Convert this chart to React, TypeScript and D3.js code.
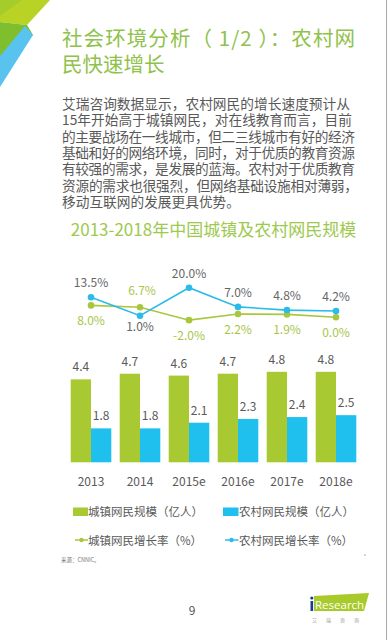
import React from "react";
import * as d3 from "d3";

const years = ["2013", "2014", "2015e", "2016e", "2017e", "2018e"];
const urbanUsers = [4.4, 4.7, 4.6, 4.7, 4.8, 4.8];
const ruralUsers = [1.8, 1.8, 2.1, 2.3, 2.4, 2.5];
const urbanGrowth = [8.0, 6.7, -2.0, 2.2, 1.9, 0.0];
const ruralGrowth = [13.5, 1.0, 20.0, 7.0, 4.8, 4.2];

const titleLines = ["社会环境分析（ 1/2 ）：农村网", "民快速增长"];
const bodyLines = [
  "艾瑞咨询数据显示，农村网民的增长速度预计从",
  "15年开始高于城镇网民，对在线教育而言，目前",
  "的主要战场在一线城市，但二三线城市有好的经济",
  "基础和好的网络环境，同时，对于优质的教育资源",
  "有较强的需求，是发展的蓝海。农村对于优质教育",
  "资源的需求也很强烈，但网络基础设施相对薄弱，",
  "移动互联网的发展更具优势。",
];
const bodyWidths = [288, 290, 293, 293, 293, 296, 0];
const chartTitle = "2013-2018年中国城镇及农村网民规模";
const legendItems = [
  "城镇网民规模（亿人）",
  "农村网民规模（亿人）",
  "城镇网民增长率（%）",
  "农村网民增长率（%）",
];

const GREEN = "#a8c931";
const BLUE = "#1fc0ee";
const GREEN_LINE = "#a9c73e";
const BLUE_LINE = "#2bbbe9";
const FONT = "'Noto Sans CJK SC', 'Noto Sans', sans-serif";

export default function App() {
  const x = d3.scalePoint<string>().domain(years).range([91, 336]);
  const barW = 20.3;
  const yBar = d3.scaleLinear().domain([0, 5]).range([462.3, 462.3 - 94.25]);
  const yLine = d3.scaleLinear().domain([0, 20]).range([317.2, 287.7]);

  const lineGen = d3
    .line<number>()
    .x((_, i) => x(years[i]) as number)
    .y((d) => yLine(d));

  const fmt = (v: number) => v.toFixed(1) + "%";

  return (
    <svg
      width={390}
      height={640}
      style={{ position: "absolute", left: 0, top: 0, background: "#fff" }}
      fontFamily={FONT}
    >
      <rect width={390} height={640} fill="#fff" />
      {/* corner decoration */}
      <polygon points="0,0 50,0 27,25 0,22" fill="#b9d226" />
      <polygon points="0,0 22,0 0,16" fill="#a6cc2a" />
      <polygon points="0,22 27,25 33,35 0,58" fill="#7fbf2e" />
      <polygon points="25,26 33,35 0,87 0,56" fill="#57c3ee" />
      {/* right border */}
      <line x1={386.5} x2={386.5} y1={0} y2={640} stroke="#aaa" strokeWidth={1} />

      {/* title */}
      <text x={62} y={46} fontSize={20.5} fill="#8fc24a" textLength={293} lengthAdjust="spacing">
        {titleLines[0]}
      </text>
      <text x={62} y={72} fontSize={20.5} fill="#8fc24a">
        {titleLines[1]}
      </text>

      {/* body */}
      {bodyLines.map((t, i) => (
        <text
          key={i}
          x={62}
          y={109 + i * 16.3}
          fontSize={13.7}
          fill="#595959"
          {...(bodyWidths[i] ? { textLength: bodyWidths[i], lengthAdjust: "spacing" } : {})}
        >
          {t}
        </text>
      ))}

      {/* chart title */}
      <text x={213.5} y={236} fontSize={17} fill="#9dc94e" textAnchor="middle">
        {chartTitle}
      </text>

      {/* bars */}
      {years.map((yr, i) => {
        const cx = x(yr) as number;
        return (
          <g key={yr}>
            <rect
              x={cx - barW}
              y={yBar(urbanUsers[i])}
              width={barW}
              height={yBar(0) - yBar(urbanUsers[i])}
              fill={GREEN}
            />
            <rect
              x={cx}
              y={yBar(ruralUsers[i])}
              width={barW}
              height={yBar(0) - yBar(ruralUsers[i])}
              fill={BLUE}
            />
            <text
              x={cx - barW / 2}
              y={yBar(urbanUsers[i]) - 8}
              fontSize={12}
              fill="#595959"
              textAnchor="middle"
            >
              {urbanUsers[i].toFixed(1)}
            </text>
            <text
              x={cx + barW / 2}
              y={yBar(ruralUsers[i]) - 8}
              fontSize={12}
              fill="#595959"
              textAnchor="middle"
            >
              {ruralUsers[i].toFixed(1)}
            </text>
            <text x={cx} y={486} fontSize={12} fill="#595959" textAnchor="middle">
              {yr}
            </text>
          </g>
        );
      })}

      {/* lines */}
      <path d={lineGen(urbanGrowth) || ""} fill="none" stroke={GREEN_LINE} strokeWidth={1.6} />
      <path d={lineGen(ruralGrowth) || ""} fill="none" stroke={BLUE_LINE} strokeWidth={1.6} />
      {years.map((yr, i) => {
        const cx = x(yr) as number;
        const ruralAbove = ruralGrowth[i] >= urbanGrowth[i];
        const yr1 = yLine(ruralGrowth[i]);
        const yu = yLine(urbanGrowth[i]);
        return (
          <g key={"p" + yr}>
            <circle cx={cx} cy={yu} r={3.3} fill={GREEN_LINE} />
            <circle cx={cx} cy={yr1} r={3.3} fill={BLUE_LINE} />
            <text
              x={cx}
              y={ruralAbove ? yr1 - 10 : yr1 + 15}
              fontSize={12}
              fill="#666"
              textAnchor="middle"
            >
              {fmt(ruralGrowth[i])}
            </text>
            <text
              x={cx + (ruralAbove ? 0 : 2)}
              y={ruralAbove ? yu + 20 : yu - 12.5}
              fontSize={12}
              fill="#a8c64a"
              textAnchor="middle"
            >
              {fmt(urbanGrowth[i])}
            </text>
          </g>
        );
      })}

      {/* legend */}
      <rect x={73} y={507.5} width={15} height={8.5} fill={GREEN} />
      <text x={88} y={516} fontSize={11.5} fill="#595959">{legendItems[0]}</text>
      <rect x={223} y={507.5} width={15.5} height={8.5} fill={BLUE} />
      <text x={239} y={516} fontSize={11.5} fill="#595959">{legendItems[1]}</text>
      <line x1={75} x2={88} y1={540} y2={540} stroke={GREEN_LINE} strokeWidth={1.5} />
      <circle cx={81.5} cy={540} r={2.2} fill={GREEN_LINE} />
      <text x={88} y={544.5} fontSize={11.5} fill="#595959">{legendItems[2]}</text>
      <line x1={225} x2={238.5} y1={540} y2={540} stroke={BLUE_LINE} strokeWidth={1.5} />
      <circle cx={231.5} cy={540} r={2.2} fill={BLUE_LINE} />
      <text x={239} y={544.5} fontSize={11.5} fill="#595959">{legendItems[3]}</text>

      {/* source */}
      <text x={61} y={561.5} fontSize={5.5} fill="#777">来源：CNNIC。</text>
      <circle cx={365} cy={555} r={0.7} fill="#888" />

      {/* page number */}
      <text x={192} y={615} fontSize={12} fill="#555" textAnchor="middle">9</text>

      {/* logo */}
      <polygon points="314,596 369,593 364,611 314,611" fill="#a8ca2a" />
      <rect x={310.5} y={601} width={2.6} height={10} fill="#1b3d8f" />
      <circle cx={311.8} cy={598} r={1.6} fill="#1b3d8f" />
      <text x={315} y={608.5} fontSize={11.5} fill="#fff" fontFamily="'Open Sans', 'Noto Sans', sans-serif">
        Research
      </text>
      <text x={312} y={622} fontSize={5} fill="#999" letterSpacing={9}>艾瑞咨询</text>
    </svg>
  );
}
